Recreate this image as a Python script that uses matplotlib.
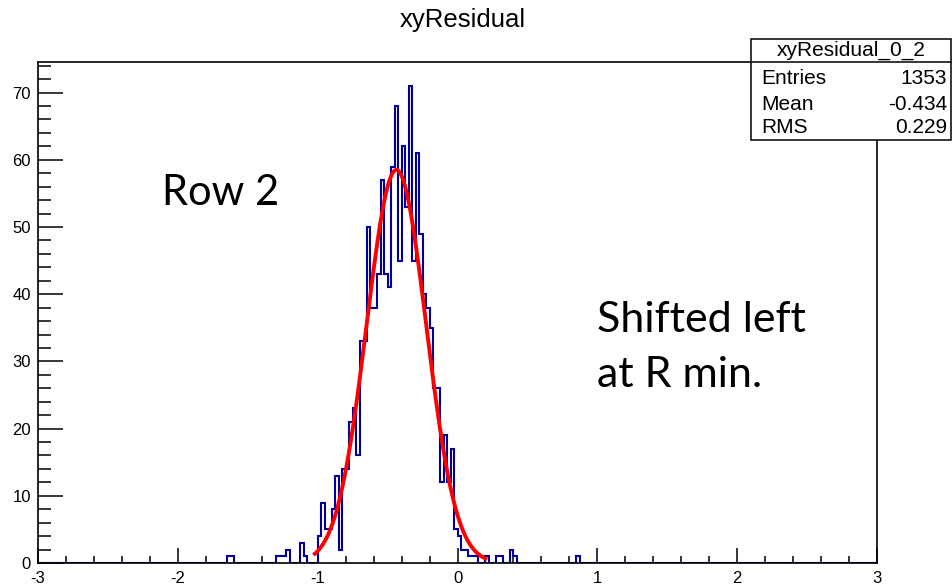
import numpy as np
import matplotlib
matplotlib.use("Agg")
import matplotlib.pyplot as plt
from matplotlib.ticker import MultipleLocator
from matplotlib.patches import Rectangle
from matplotlib.lines import Line2D

plt.rcParams["axes.unicode_minus"] = False

# ---------------- data ----------------
x_min, x_max, n_bins = -3.0, 3.0, 240
y_max = 74.55

bin_left = [-1.650, -1.625,
            -1.300, -1.275, -1.250, -1.225,
            -1.125, -1.100,
            -1.000, -0.975, -0.950, -0.925, -0.900, -0.875, -0.850, -0.825,
            -0.800, -0.775, -0.750, -0.725, -0.700, -0.675, -0.650, -0.625,
            -0.600, -0.575, -0.550, -0.525, -0.500, -0.475, -0.450, -0.425,
            -0.400, -0.375, -0.350, -0.325, -0.300, -0.275, -0.250, -0.225,
            -0.200, -0.175, -0.150, -0.125, -0.100, -0.075, -0.050, -0.025,
            0.000, 0.025, 0.050, 0.075, 0.100, 0.125, 0.200, 0.275, 0.300,
            0.375, 0.400, 0.850]
bin_count = [1, 1,
             1, 1, 1, 2,
             3, 1,
             4, 9, 5, 5, 8, 13, 2, 14,
             14, 21, 23, 16, 33, 33, 50, 38,
             38, 43, 57, 43, 41, 59, 68, 45,
             62, 53, 71, 45, 61, 49, 40, 38,
             35, 26, 26, 12, 19, 12, 17, 5,
             4, 2, 2, 1, 1, 1, 1, 1, 1,
             2, 1, 1]

fit_const = 58.5
fit_mean = -0.437
fit_sigma = 0.213
fit_lo, fit_hi = -1.02, 0.2

title = "xyResidual"
stats_name = "xyResidual_0_2"
stats_labels = ["Entries", "Mean", "RMS"]
stats_values = ["1353", "-0.434", "0.229"]

note_left = "Row 2"
note_right_lines = ["Shifted left", "at R min."]

# ---------------- figure ----------------
W, H = 953, 587
fig = plt.figure(figsize=(W / 100, H / 100), dpi=100)
fig.patch.set_facecolor("white")

L, R, T, B = 38, 877, 62, 563
ax = fig.add_axes([L / W, 1 - B / H, (R - L) / W, (B - T) / H])
ax.set_xlim(x_min, x_max)
ax.set_ylim(0, y_max)

edges = np.linspace(x_min, x_max, n_bins + 1)
width = edges[1] - edges[0]
counts = np.zeros(n_bins)
for lo, c in zip(bin_left, bin_count):
    counts[int(round((lo - x_min) / width))] = c

ax.stairs(counts, edges, color="#000099", lw=1.5, zorder=2)

xf = np.linspace(fit_lo, fit_hi, 200)
yf = fit_const * np.exp(-0.5 * ((xf - fit_mean) / fit_sigma) ** 2)
ax.plot(xf, yf, color="#ff0000", lw=2.8, zorder=3)

for s in ax.spines.values():
    s.set_linewidth(1.2)
    s.set_color("black")
    s.set_zorder(4)

fs_tick = 12
ax.xaxis.set_major_locator(MultipleLocator(1))
ax.xaxis.set_minor_locator(MultipleLocator(0.2))
ax.yaxis.set_major_locator(MultipleLocator(10))
ax.yaxis.set_minor_locator(MultipleLocator(2))
ax.tick_params(axis="x", which="major", direction="in", length=10.8, width=1.1,
               top=False, labelsize=fs_tick, pad=6)
ax.tick_params(axis="x", which="minor", direction="in", length=5.4, width=1.1, top=False)
ax.tick_params(axis="y", which="major", direction="in", length=18, width=1.1,
               right=False, labelsize=fs_tick, pad=5)
ax.tick_params(axis="y", which="minor", direction="in", length=9, width=1.1, right=False)
for lab in ax.get_xticklabels() + ax.get_yticklabels():
    lab.set_fontfamily("Liberation Sans")

# title
fig.text(463 / W, 1 - 20 / H, title, ha="center", va="center",
         fontsize=18.5, family="Liberation Sans")

# stats box
bx0, bx1, by0, by1, bsep = 751, 951, 39, 140, 61.5
box = Rectangle((bx0 / W, 1 - by1 / H), (bx1 - bx0) / W, (by1 - by0) / H,
                transform=fig.transFigure, facecolor="white", edgecolor="black",
                lw=1.1, zorder=10)
fig.add_artist(box)
fig.add_artist(Line2D([bx0 / W, bx1 / W], [1 - bsep / H, 1 - bsep / H],
                      transform=fig.transFigure, color="black", lw=1.1, zorder=11))
fs_stat = 15
fig.text((bx0 + bx1) / 2 / W, 1 - 50 / H, stats_name, ha="center", va="center",
         fontsize=fs_stat, family="Liberation Sans", zorder=12)
row_y = [79, 104, 128]
for lab, val, yy in zip(stats_labels, stats_values, row_y):
    fig.text(761 / W, 1 - yy / H, lab, ha="left", va="center",
             fontsize=fs_stat, family="Liberation Sans", zorder=12)
    fig.text(947 / W, 1 - yy / H, val, ha="right", va="center",
             fontsize=fs_stat, family="Liberation Sans", zorder=12)

# slide annotations
fig.text(162 / W, 1 - 205 / H, note_left, ha="left", va="baseline",
         fontsize=30, family="Lato")
for line, yb in zip(note_right_lines, [332, 387]):
    fig.text(597 / W, 1 - yb / H, line, ha="left", va="baseline",
             fontsize=31, family="Lato")

fig.savefig("out.png", dpi=100)
